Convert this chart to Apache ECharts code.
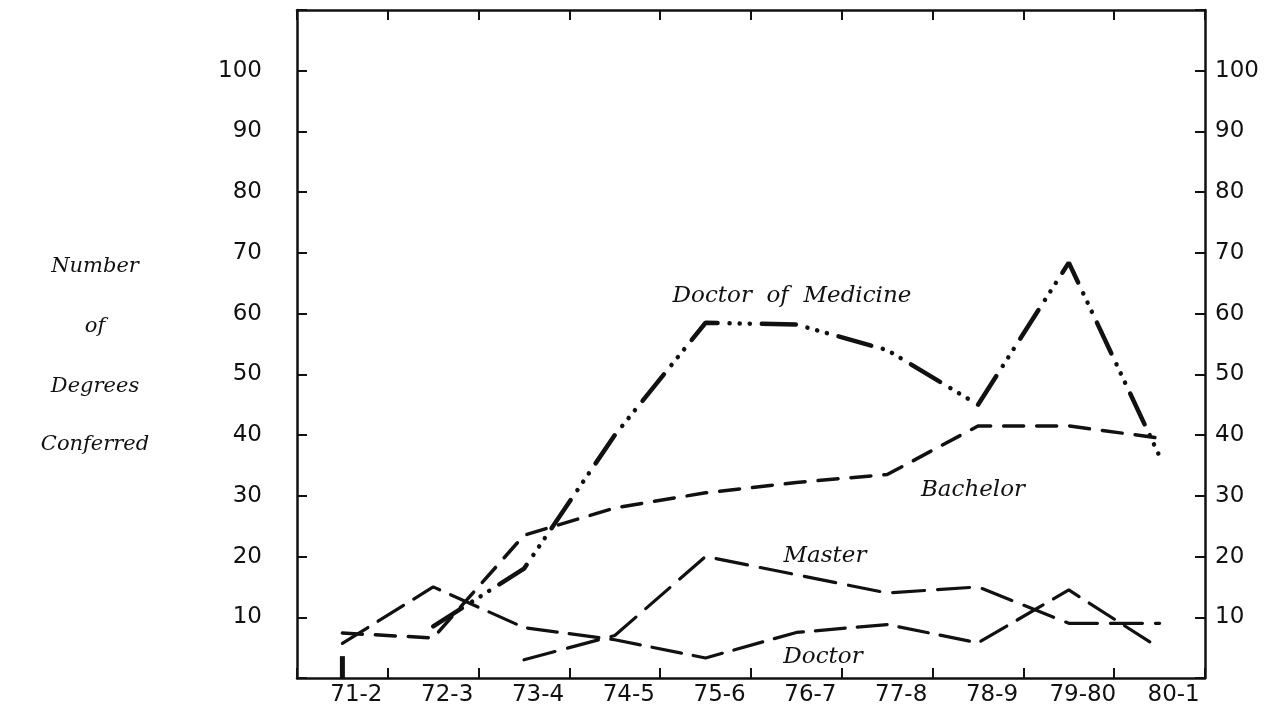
<!DOCTYPE html>
<html>
<head>
<meta charset="utf-8">
<title>Number of Degrees Conferred</title>
<script src="https://cdn.jsdelivr.net/npm/echarts@6/dist/echarts.min.js"></script>
<style>
  html, body { margin: 0; padding: 0; background: #fff; }
  #chart { width: 1288px; height: 714px; }
</style>
</head>
<body>
<div id="chart"></div>
<script>
// academic years on the bottom axis
const years = ['71-2', '72-3', '73-4', '74-5', '75-6', '76-7', '77-8', '78-9', '79-80', '80-1'];

// values
const medicine = [null, 8.5, 18, 40, 58.5, 58.2, 54, 45, 68.4, 36.5];
const bachelor = [7.4, 6.6, 23.5, 28, 30.5, 32.2, 33.5, 41.5, 41.5, 39.5];
const master = [null, null, 3, 7, 20, 17, 14, 15, 9, 9];
const doctor = [5.7, 15, 8.3, 6.3, 3.3, 7.5, 8.8, 5.8, 14.5, 4.9];
// short heavy stroke standing on the axis at 71-2
const startMark = [3.6, null, null, null, null, null, null, null, null, null];

const yMin = 0;
const yMax = 110;
const yStep = 10;

const ink = '#111';
const labelFont = 'DejaVu Sans';
const noteFont = 'DejaVu Serif';

const chart = echarts.init(document.getElementById('chart'));

function yAxisFor(pos, margin) {
  return {
    type: 'value',
    position: pos,
    min: yMin,
    max: yMax,
    interval: yStep,
    splitLine: { show: false },
    axisLine: { show: true, onZero: false, lineStyle: { color: ink, width: 2.5 } },
    axisTick: { show: true, inside: true, length: 10, lineStyle: { color: ink, width: 2 } },
    axisLabel: {
      margin: margin,
      color: ink,
      fontFamily: labelFont,
      fontSize: 23,
      formatter: v => (v === yMin || v === yMax) ? '' : String(v)
    }
  };
}

function xAxisFor(pos, showLabels) {
  return {
    type: 'category',
    data: years,
    position: pos,
    boundaryGap: true,
    axisLine: { show: true, onZero: false, lineStyle: { color: ink, width: 2.5 } },
    axisTick: { show: true, inside: true, length: 10, interval: 0, lineStyle: { color: ink, width: 2 } },
    axisLabel: {
      show: showLabels,
      interval: 0,
      margin: 6,
      color: ink,
      fontFamily: labelFont,
      fontSize: 23,
      padding: [0, 0, 0, 28]
    }
  };
}

function lineSeries(name, data, dash, width) {
  return {
    name: name,
    type: 'line',
    data: data,
    showSymbol: false,
    symbol: 'none',
    silent: true,
    lineStyle: { color: ink, width: width, type: dash, cap: 'round' }
  };
}

function note(text, x, y, size) {
  return {
    type: 'text', x: x, y: y,
    style: {
      text: text, fontFamily: noteFont, fontStyle: 'italic', fontSize: size,
      fill: ink, align: 'center', verticalAlign: 'middle'
    }
  };
}

const option = {
  animation: false,
  backgroundColor: '#fff',
  grid: { left: 297, right: 83, top: 10, bottom: 36 },
  xAxis: [xAxisFor('bottom', true), xAxisFor('top', false)],
  yAxis: [yAxisFor('left', 35), yAxisFor('right', 10)],
  series: [
    lineSeries('Doctor of Medicine', medicine, [34, 12, 0.1, 10, 0.1, 10, 0.1, 12], 4.5),
    lineSeries('Bachelor', bachelor, [20, 13], 3.5),
    lineSeries('Master', master, [32, 13], 3.2),
    lineSeries('Doctor', doctor, [30, 12], 3.2),
    {
      name: 'start',
      type: 'bar',
      data: startMark,
      barWidth: 5,
      silent: true,
      itemStyle: { color: ink }
    }
  ],
  graphic: [
    note('Number', 95, 267, 21),
    note('of', 95, 327, 21),
    note('Degrees', 95, 387, 21),
    note('Conferred', 95, 445, 21),
    note('Doctor  of  Medicine', 792, 296, 23),
    note('Bachelor', 973, 490, 23),
    note('Master', 825, 556, 23),
    note('Doctor', 823, 657, 23)
  ]
};

chart.setOption(option);
</script>
</body>
</html>
